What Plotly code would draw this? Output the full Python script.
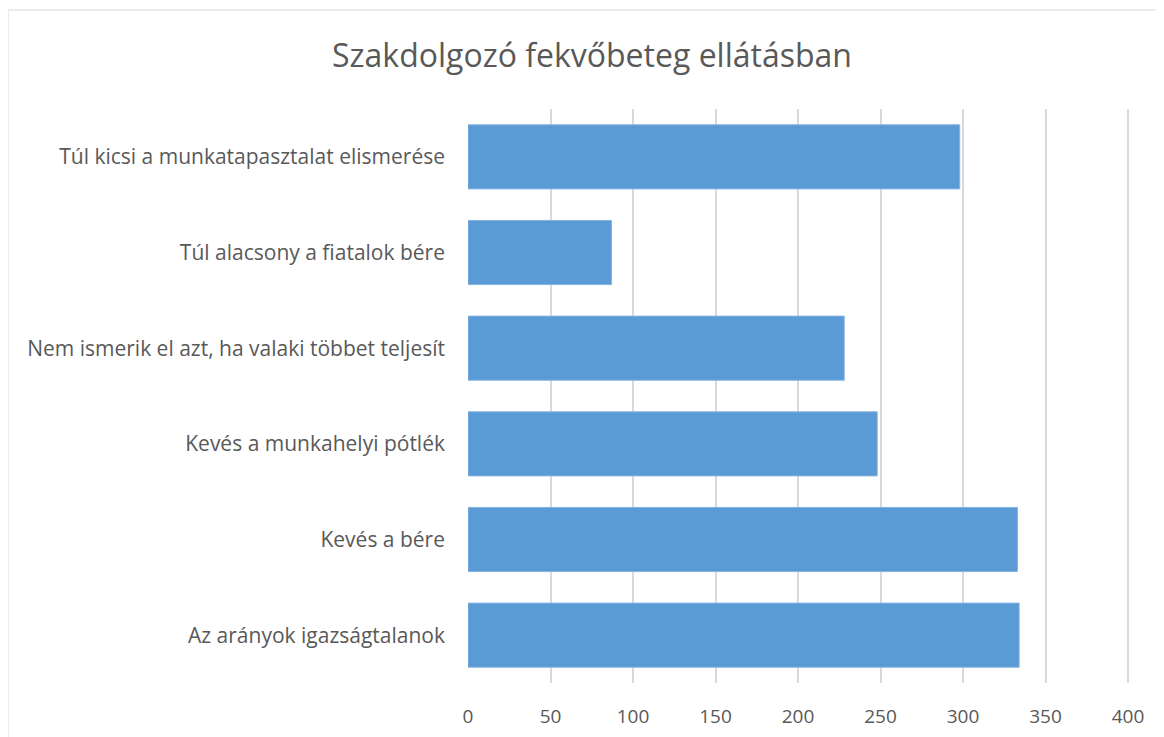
import plotly.graph_objects as go

# categories listed bottom to top (as plotted)
categories = [
    "Az arányok igazságtalanok",
    "Kevés a bére",
    "Kevés a munkahelyi pótlék",
    "Nem ismerik el azt, ha valaki többet teljesít",
    "Túl alacsony a fiatalok bére",
    "Túl kicsi a munkatapasztalat elismerése",
]
values = [334, 333, 248, 228, 87, 298]
x_ticks = [0, 50, 100, 150, 200, 250, 300, 350, 400]

W, H = 1164, 737
OFF = 8  # page body margin
L, R, T, B = 468 - OFF, 39, 109 - OFF, 62
pw, ph = W - L - R, H - T - B

fig = go.Figure(go.Bar(
    x=values, y=categories, orientation="h",
    marker=dict(color="#5b9bd5", line=dict(color="#86b4e0", width=1)),
    width=0.67,
))

fig.update_layout(
    width=W, height=H,
    margin=dict(l=L, r=R, t=T, b=B),
    plot_bgcolor="white", paper_bgcolor="white",
    showlegend=False,
    font=dict(family="Open Sans, sans-serif", size=21, color="#595959"),
    title=dict(text="Szakdolgozó fekvőbeteg ellátásban", x=(592 - OFF) / W, xanchor="center",
               y=1 - (56 - OFF) / H, yanchor="middle",
               font=dict(family="Open Sans, sans-serif", size=32, color="#595959")),
    shapes=[dict(type="rect", xref="paper", yref="paper",
                 x0=(8 - OFF - L) / pw, x1=(1160 - OFF - L) / pw,
                 y0=(T + ph - 760) / ph, y1=(T + ph - (10 - OFF)) / ph,
                 line=dict(color="#d9d9d9", width=1), layer="below")],
)

fig.update_xaxes(range=[0, 403], tickvals=x_ticks, showgrid=True, gridcolor="#d9d9d9",
                 gridwidth=2, zeroline=False, showline=False, ticks="",
                 ticklabelstandoff=20, tickfont=dict(size=19))
fig.update_yaxes(categoryorder="array", categoryarray=categories, showgrid=False,
                 zeroline=False, showline=False, ticks="", ticklabelstandoff=22,
                 tickfont=dict(size=21))

fig.write_html("out.html")
